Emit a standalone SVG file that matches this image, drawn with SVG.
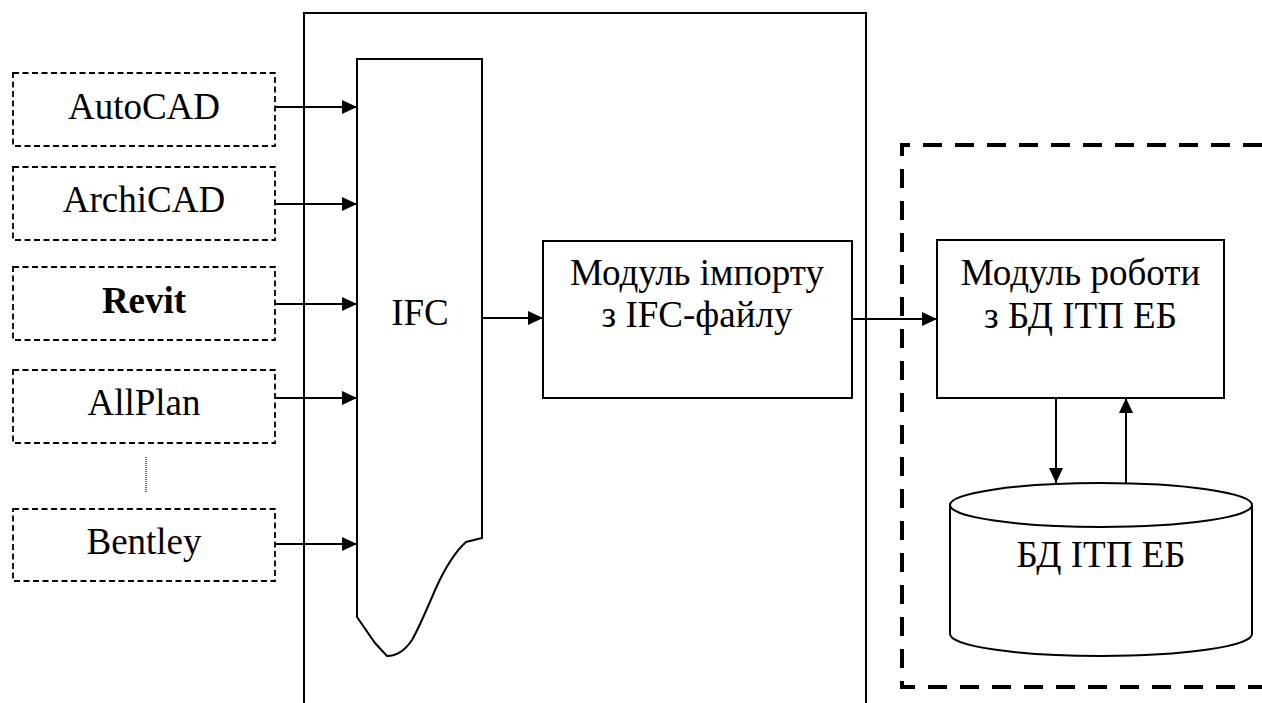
<svg xmlns="http://www.w3.org/2000/svg" width="1262" height="703" viewBox="0 0 1262 703">
<style>
.src{fill:#fff;stroke:#000;stroke-width:1.8;stroke-dasharray:6 3.5}
.box{fill:#fff;stroke:#000;stroke-width:2}
.ln{fill:none;stroke:#000;stroke-width:2}
.ar{fill:none;stroke:#000;stroke-width:2;marker-end:url(#ah)}
</style>
<defs>
<marker id="ah" markerUnits="userSpaceOnUse" markerWidth="15" markerHeight="14" refX="15" refY="7" orient="auto">
<path d="M0,0 L15,7 L0,14 Z" fill="#000"/>
</marker>
</defs>
<rect width="1262" height="703" fill="#fff"/>
<g id="system">
<path class="ln" d="M304,703 V13 H866 V703"/>
</g>
<g id="db-area">
<path d="M1262,145 H902 V687 H1262" fill="none" stroke="#000" stroke-width="4" stroke-dasharray="19 13"/>
</g>
<g id="autocad"><rect class="src" x="13" y="73" width="262" height="73"/><text x="144" y="119" font-family="Liberation Serif" font-size="37" text-anchor="middle">AutoCAD</text></g>
<g id="archicad"><rect class="src" x="13" y="167" width="262" height="73"/><text x="144" y="212" font-family="Liberation Serif" font-size="37" text-anchor="middle">ArchiCAD</text></g>
<g id="revit"><rect class="src" x="13" y="267" width="262" height="73"/><text x="144" y="313" font-family="Liberation Serif" font-size="37" text-anchor="middle" font-weight="bold">Revit</text></g>
<g id="allplan"><rect class="src" x="13" y="370" width="262" height="73"/><text x="144" y="415" font-family="Liberation Serif" font-size="37" text-anchor="middle">AllPlan</text></g>
<g id="ellipsis"><line x1="146" y1="457" x2="146" y2="492" stroke="#000" stroke-width="1.2" stroke-dasharray="1 1"/></g>
<g id="bentley"><rect class="src" x="13" y="509" width="262" height="72"/><text x="144" y="554" font-family="Liberation Serif" font-size="37" text-anchor="middle">Bentley</text></g>
<g id="ifc">
<path class="box" d="M357,59 H482 V538 L466,542 C455,552 445,568 436,588 C428,606 420,626 412,640 C404,652 396,656 387,656 L375,643 L357,617 Z"/>
<text x="420" y="325" font-family="Liberation Serif" font-size="37" text-anchor="middle">IFC</text>
</g>
<g id="import">
<rect class="box" x="543" y="241" width="309" height="157"/>
<text x="697" y="285" font-family="Liberation Serif" font-size="37" text-anchor="middle">Модуль імпорту</text>
<text x="697" y="327" font-family="Liberation Serif" font-size="37" text-anchor="middle">з IFC-файлу</text>
</g>
<g id="work">
<rect class="box" x="937" y="240" width="287" height="158"/>
<text x="1080.5" y="285" font-family="Liberation Serif" font-size="37" text-anchor="middle">Модуль роботи</text>
<text x="1080.5" y="328" font-family="Liberation Serif" font-size="37" text-anchor="middle">з БД ІТП ЕБ</text>
</g>
<g id="db">
<path class="box" d="M950,505 V634 A151,22 0 0 0 1252,634 V505"/>
<ellipse class="box" cx="1101" cy="505" rx="151" ry="22"/>
<text x="1101" y="567" font-family="Liberation Serif" font-size="37" text-anchor="middle">БД ІТП ЕБ</text>
</g>
<g id="connectors">
<line class="ar" x1="275" y1="107" x2="357" y2="107"/>
<line class="ar" x1="275" y1="204" x2="357" y2="204"/>
<line class="ar" x1="275" y1="304" x2="357" y2="304"/>
<line class="ar" x1="275" y1="398" x2="357" y2="398"/>
<line class="ar" x1="275" y1="544" x2="357" y2="544"/>
<line class="ar" x1="482" y1="318" x2="543" y2="318"/>
<line class="ar" x1="852" y1="319" x2="937" y2="319"/>
<line class="ar" x1="1056" y1="398" x2="1056" y2="483"/>
<line class="ar" x1="1126" y1="483" x2="1126" y2="398"/>
</g>
</svg>
